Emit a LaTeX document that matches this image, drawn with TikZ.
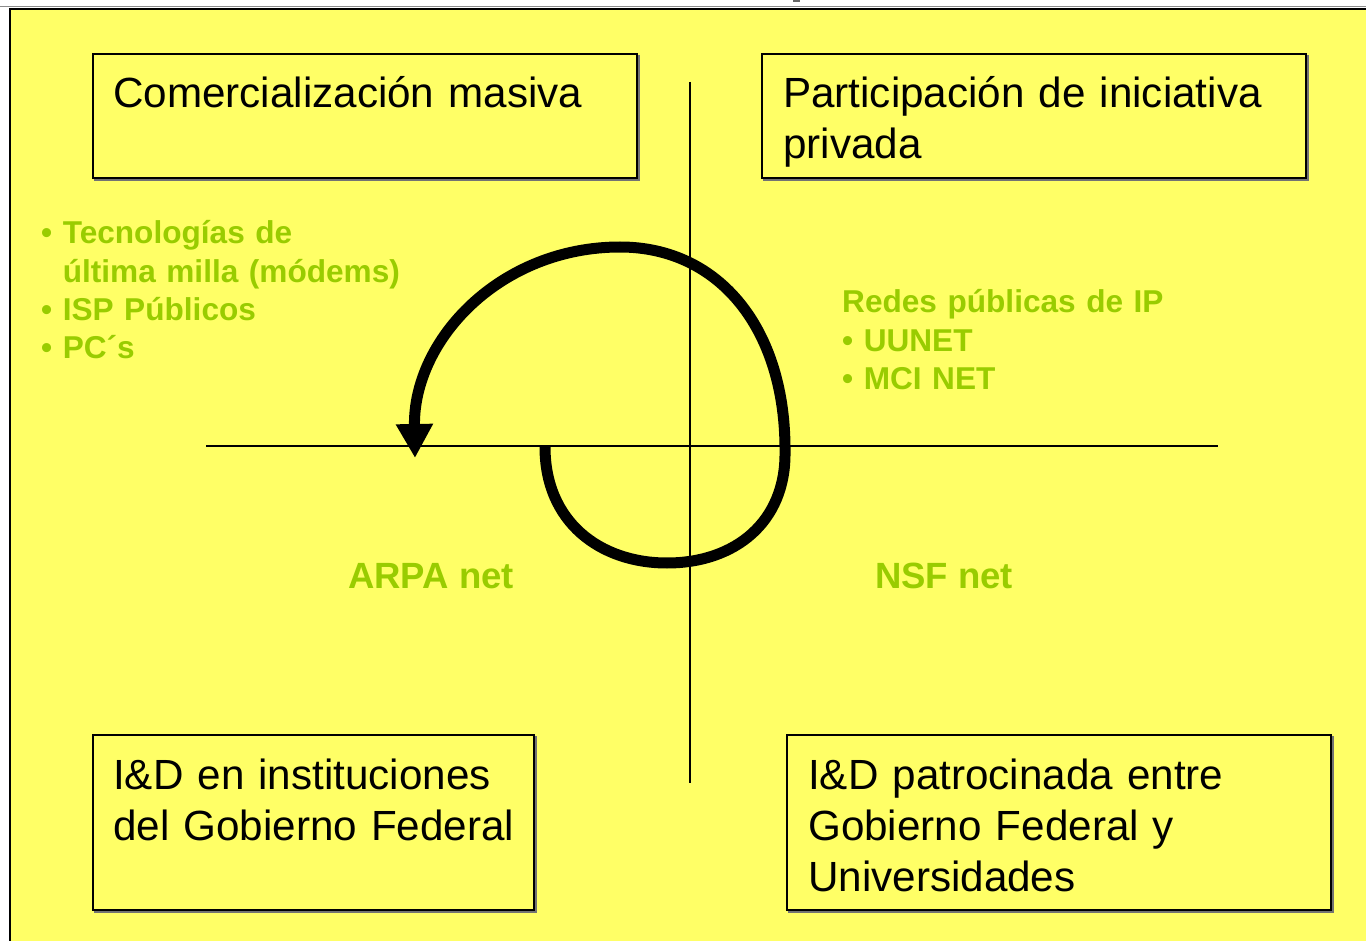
\documentclass[tikz,border=0pt]{standalone}
\usepackage{fontspec}
\setmainfont{Liberation Sans}
\usetikzlibrary{arrows.meta,shadows}
\definecolor{bgyellow}{RGB}{255,255,102}
\definecolor{txtgreen}{RGB}{153,204,0}
\tikzset{
  box/.style={draw=black, line width=1.6pt, fill=bgyellow, rectangle, inner sep=0pt,
    copy shadow={shadow xshift=1.8pt, shadow yshift=-1.8pt, fill=black!55, draw=black!55}},
  boxtext/.style={anchor=base west, inner sep=0pt, text width=520pt, align=left,
    font=\fontsize{42.2}{51}\selectfont},
  greentext/.style={anchor=base west, inner sep=0pt, text width=400pt, align=left,
    text=txtgreen, font=\bfseries\fontsize{31.6}{38.3}\selectfont},
  nettext/.style={anchor=base west, inner sep=0pt, text=txtgreen,
    font=\bfseries\fontsize{36.5}{40}\selectfont},
  axis/.style={line width=1.8pt, draw=black},
  spiral/.style={line width=11pt, draw=black, line cap=butt,
    -{Triangle[length=34pt 0 0, width=35pt 0 0]}}
}
\begin{document}
\begin{tikzpicture}[x=1pt,y=-1pt]
\useasboundingbox (0,0) rectangle (1366,941);
\fill[white] (0,0) rectangle (1366,941);
\fill[black!60] (793,0) rectangle (800,2);
\draw[black!45, line width=1pt] (0,7) -- (1366,7);
\fill[bgyellow] (10,9) rectangle (1366,941);
\draw[black, line width=2pt] (10,941) -- (10,9) -- (1366,9);

% axes
\coordinate (vtop) at (690,82);
\coordinate (vbot) at (690,783);
\coordinate (hl) at (206,446);
\coordinate (hr) at (1218,446);
\draw[axis] (vtop) -- (vbot);
\draw[axis] (hl) -- (hr);

% boxes
\node[box, minimum width=544pt, minimum height=124pt] (b1) at (365,116) {};
\node[box, minimum width=544pt, minimum height=124pt] (b2) at (1034,116) {};
\node[box, minimum width=441pt, minimum height=175pt] (b3) at (313.5,822.5) {};
\node[box, minimum width=544pt, minimum height=175pt] (b4) at (1059,822.5) {};

\node[boxtext] (t1) at (113,108) {Comercialización masiva};
\node[boxtext] (t2) at (783,108) {Participación de iniciativa\\privada};
\node[boxtext] (t3) at (113,789) {I\&D en instituciones\\del Gobierno Federal};
\node[boxtext] (t4) at (808,789) {I\&D patrocinada entre\\Gobierno Federal y\\Universidades};

% green lists
\node[greentext] (gl) at (41,244) {• Tecnologías de\\\hphantom{• }última milla (módems)\\• ISP Públicos\\• PC´s};
\node[greentext] (gr) at (842,313) {Redes públicas de IP\\• UUNET\\• MCI NET};
\node[nettext] (arpa) at (348,588) {ARPA net};
\node[nettext] (nsf) at (875,588) {NSF net};

% spiral
\coordinate (s0) at (545,447);
\coordinate (s1) at (667,563);
\coordinate (s2) at (785,452);
\coordinate (s3) at (620,247);
\coordinate (s4) at (415,458);
\draw[spiral] (s0) .. controls (545,522) and (600,563) .. (s1)
  .. controls (735,563) and (786,522) .. (s2)
  .. controls (786,330) and (720,247) .. (s3)
  .. controls (500,247) and (413,340) .. (s4);
\end{tikzpicture}
\end{document}
